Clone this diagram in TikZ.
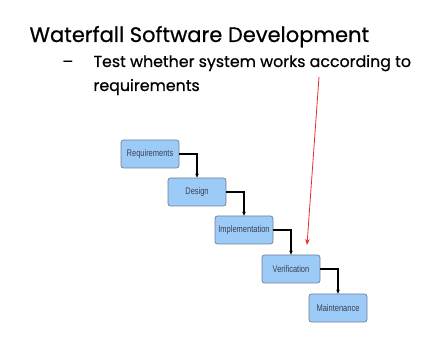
\documentclass[tikz,border=0pt]{standalone}
\usepackage{fontspec}
\setmainfont{Poppins}
\newfontfamily\headfont[FakeBold=0.6]{Poppins}
\newfontfamily\boxfont[FakeStretch=0.78]{Liberation Sans}
\usetikzlibrary{arrows.meta}

\definecolor{boxfill}{HTML}{9DCBF7}
\definecolor{boxline}{HTML}{6F8198}
\definecolor{boxtext}{HTML}{3A4250}
\definecolor{redline}{HTML}{E5302A}

\tikzset{
  phase/.style={draw=boxline, line width=0.7pt, fill=boxfill, rounded corners=2.5pt,
    minimum width=58pt, minimum height=28pt, inner sep=0pt,
    font=\boxfont\fontsize{9.6}{10}\selectfont, text=boxtext},
  flow/.style={draw=black, line width=1.2pt, -{Stealth[length=4pt,width=3.5pt]}},
  head/.style={anchor=base west, font=\headfont\fontsize{#1}{#1}\selectfont}
}

\begin{document}
\begin{tikzpicture}[x=1pt, y=-1pt]

% Рамка страницы
\useasboundingbox (0,0) rectangle (424,353);

% Заголовок и пункт
\node[head=21] (title) at (26,42) {Waterfall Software Development};
\node[head=15.8] (dash) at (59,67) {–};
\node[head=15.8] (line1) at (90,67) {Test whether system works according to};
\node[head=15.8] (line2) at (90,91) {requirements};

% Этапы
\node[phase] (req)   at (150,154) {Requirements};
\node[phase] (des)   at (197,192) {Design};
\node[phase] (impl)  at (244,230) {Implementation};
\node[phase] (ver)   at (291,269) {Verification};
\node[phase] (maint) at (338,308) {Maintenance};

% Переходы
\draw[flow] (req.east)  -| (des.north);
\draw[flow] (des.east)  -| (impl.north);
\draw[flow] (impl.east) -| (ver.north);
\draw[flow] (ver.east)  -| (maint.north);

% Красная стрелка
\coordinate (r1) at (319,77);
\coordinate (r2) at (307,245);
\draw[redline, line width=0.8pt, -{Stealth[length=6pt,width=4.5pt]}] (r1) -- (r2);

\end{tikzpicture}
\end{document}
